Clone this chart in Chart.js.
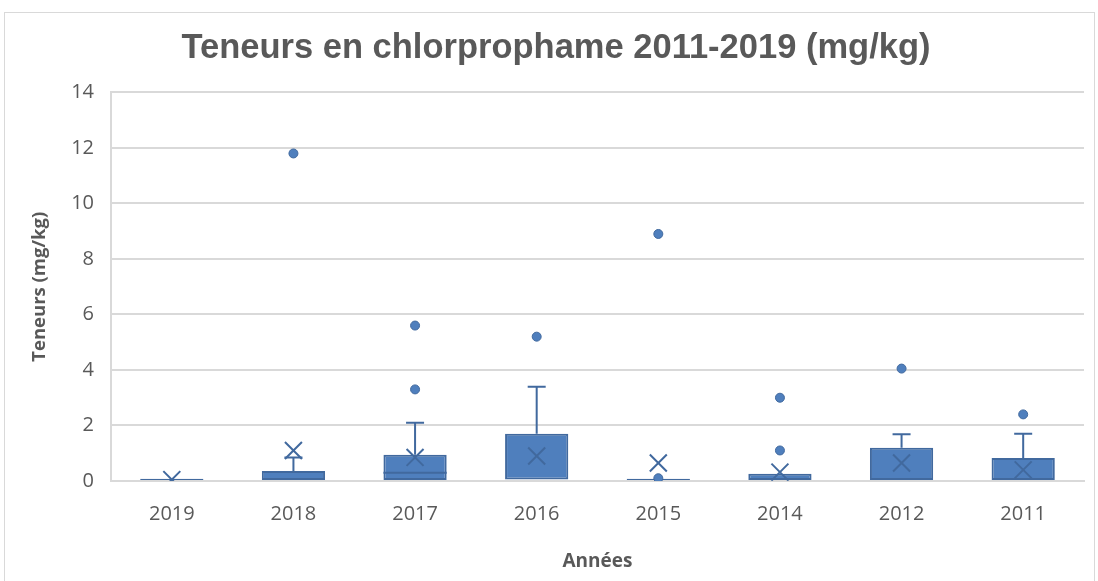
<!DOCTYPE html>
<html>
<head>
<meta charset="utf-8">
<script src="https://cdn.jsdelivr.net/npm/chart.js@4"></script>
<style>
  html, body { margin: 0; padding: 0; background: #fff; }
  #wrap { position: relative; width: 1098px; height: 581px; overflow: hidden; }
  #frame { position: absolute; left: 4px; top: 12px; width: 1091px; height: 600px; border: 1px solid #d9d9d9; box-sizing: border-box; }
  canvas { position: absolute; left: 0; top: 0; }
</style>
</head>
<body>
<div id="wrap">
  <div id="frame"></div>
  <canvas id="c" width="1098" height="581"></canvas>
</div>
<script>
const categories = ['2019', '2018', '2017', '2016', '2015', '2014', '2012', '2011'];
const q1Values     = [0.00, 0.00, 0.00, 0.05, 0.00, 0.00, 0.00, 0.00];
const medianValues = [0.00, 0.00, 0.30, 0.05, 0.00, 0.00, 0.00, 0.00];
const q3Values     = [0.08, 0.36, 0.95, 1.70, 0.08, 0.26, 1.20, 0.83];
const whiskerHigh  = [0.08, 0.85, 2.10, 3.40, 0.08, 0.26, 1.68, 1.70];
const meanValues   = [0.05, 1.10, 0.85, 0.90, 0.65, 0.32, 0.65, 0.40];
const outlierCats  = ['2018', '2017', '2017', '2016', '2015', '2015', '2014', '2014', '2012', '2011'];
const outlierVals  = [11.8, 3.3, 5.6, 5.2, 8.9, 0.1, 3.0, 1.1, 4.05, 2.4];
const yTicks = [0, 2, 4, 6, 8, 10, 12, 14];

const FILL = '#4f7fbd';
const EDGE = '#41699e';
const TEXT = '#595959';

const boxData = categories.map((c, i) => [q1Values[i], q3Values[i]]);
const meanData = categories.map((c, i) => ({ x: c, y: meanValues[i] }));
const outlierData = outlierCats.map((c, i) => ({ x: c, y: outlierVals[i] }));

const boxExtras = {
  id: 'boxExtras',
  afterDatasetDraw(chart, args) {
    if (args.index !== 0) return;
    const ctx = chart.ctx;
    const y = chart.scales.y;
    const meta = chart.getDatasetMeta(0);
    ctx.save();
    ctx.strokeStyle = EDGE;
    ctx.lineWidth = 2;
    meta.data.forEach((bar, i) => {
      const x = bar.x;
      const half = bar.width / 2;
      if (medianValues[i] > q1Values[i] && medianValues[i] < q3Values[i]) {
        const ym = y.getPixelForValue(medianValues[i]);
        ctx.beginPath();
        ctx.moveTo(x - half, ym);
        ctx.lineTo(x + half, ym);
        ctx.stroke();
      }
      if (whiskerHigh[i] > q3Values[i]) {
        const yt = y.getPixelForValue(q3Values[i]);
        const yw = y.getPixelForValue(whiskerHigh[i]);
        ctx.beginPath();
        ctx.moveTo(x, yt);
        ctx.lineTo(x, yw);
        ctx.moveTo(x - 9, yw);
        ctx.lineTo(x + 9, yw);
        ctx.stroke();
      }
    });
    ctx.restore();
  }
};

new Chart(document.getElementById('c'), {
  type: 'bar',
  data: {
    labels: categories,
    datasets: [
      {
        label: 'Boîte',
        data: boxData,
        backgroundColor: FILL,
        borderColor: EDGE,
        borderWidth: 2,
        borderSkipped: false,
        barPercentage: 0.52,
        categoryPercentage: 1,
        order: 3
      },
      {
        type: 'line',
        label: 'Moyenne',
        data: meanData,
        showLine: false,
        pointStyle: 'crossRot',
        pointRadius: 12,
        pointBorderWidth: 2,
        borderColor: EDGE,
        backgroundColor: EDGE,
        order: 1
      },
      {
        type: 'line',
        label: 'Valeurs aberrantes',
        data: outlierData,
        showLine: false,
        pointStyle: 'circle',
        pointRadius: 4.5,
        pointBorderWidth: 1,
        borderColor: EDGE,
        backgroundColor: FILL,
        order: 2
      }
    ]
  },
  options: {
    responsive: false,
    animation: false,
    events: [],
    layout: { padding: { left: 26, right: 12, top: 0, bottom: 0 } },
    plugins: {
      legend: { display: false },
      tooltip: { enabled: false },
      title: {
        display: true,
        text: 'Teneurs en chlorprophame 2011-2019 (mg/kg)',
        color: TEXT,
        font: { family: 'Liberation Sans', size: 34.5, weight: 'bold', lineHeight: 1.2 },
        padding: { top: 28, bottom: 23 }
      }
    },
    scales: {
      x: {
        type: 'category',
        offset: true,
        grid: { display: false, drawTicks: false },
        border: { display: true, color: '#d9d9d9', width: 2 },
        ticks: { color: TEXT, font: { family: 'Open Sans', size: 20 }, padding: 21 },
        title: {
          display: true,
          text: 'Années',
          color: TEXT,
          font: { family: 'Open Sans', size: 19, weight: 'bold', lineHeight: 1.2 },
          padding: { top: 0, bottom: 8 }
        },
        afterFit(scale) { scale.height = 100; }
      },
      y: {
        min: 0,
        max: 14,
        afterBuildTicks(scale) { scale.ticks = yTicks.map(v => ({ value: v })); },
        grid: { color: '#d9d9d9', lineWidth: 2, drawTicks: false },
        border: { display: true, color: '#d9d9d9', width: 2 },
        ticks: { color: TEXT, font: { family: 'Open Sans', size: 20 }, padding: 17 },
        title: {
          display: true,
          text: 'Teneurs (mg/kg)',
          color: TEXT,
          font: { family: 'Open Sans', size: 18.5, weight: 'bold', lineHeight: 1.2 },
          padding: { top: 3, bottom: 0 }
        },
        afterFit(scale) { scale.width = 85; }
      }
    }
  },
  plugins: [boxExtras]
});
</script>
</body>
</html>
